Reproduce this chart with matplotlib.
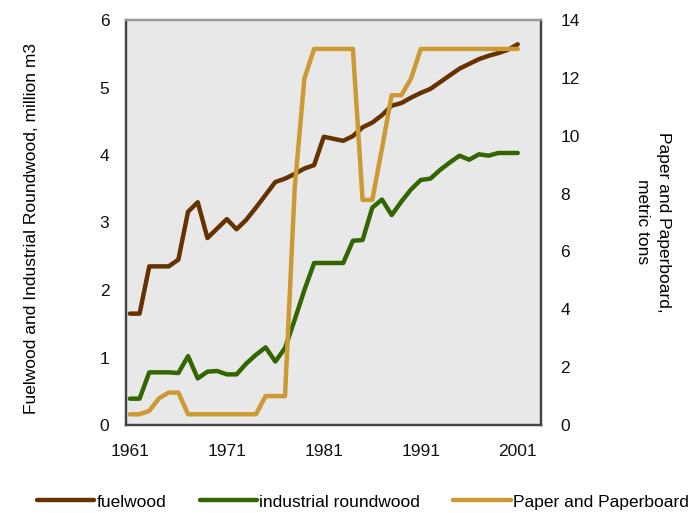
import matplotlib
matplotlib.use("Agg")
from matplotlib import pyplot as plt

years = list(range(1961, 2002))

fuelwood = [1.65, 1.65, 2.35, 2.35, 2.35, 2.45, 3.16, 3.30, 2.77, 2.91,
            3.05, 2.90, 3.04, 3.22, 3.41, 3.60, 3.65, 3.72, 3.80, 3.85,
            4.27, 4.24, 4.21, 4.28, 4.41, 4.48, 4.59, 4.73, 4.77, 4.85,
            4.92, 4.98, 5.08, 5.18, 5.28, 5.35, 5.42, 5.47, 5.51, 5.56,
            5.64]

industrial = [0.39, 0.39, 0.78, 0.78, 0.78, 0.77, 1.02, 0.69, 0.79, 0.80,
              0.75, 0.75, 0.91, 1.04, 1.15, 0.94, 1.14, 1.56, 2.00, 2.40,
              2.40, 2.40, 2.40, 2.73, 2.74, 3.22, 3.34, 3.11, 3.31, 3.49,
              3.63, 3.65, 3.78, 3.89, 3.99, 3.93, 4.01, 3.99, 4.03, 4.03,
              4.03]

paper = [0.37, 0.37, 0.49, 0.92, 1.12, 1.12, 0.37, 0.37, 0.37, 0.37,
         0.37, 0.37, 0.37, 0.37, 1.00, 1.00, 1.00, 8.20, 11.98, 13.0,
         13.0, 13.0, 13.0, 13.0, 7.78, 7.78, 9.56, 11.4, 11.4, 11.98,
         13.0, 13.0, 13.0, 13.0, 13.0, 13.0, 13.0, 13.0, 13.0, 13.0,
         13.0]

x_ticks = [1961, 1971, 1981, 1991, 2001]

c_fuel = "#663300"
c_ind = "#336600"
c_paper = "#CC9933"

plt.rcParams['font.family'] = ['Liberation Sans', 'DejaVu Sans']
fs = 12.5

fig = plt.figure(figsize=(6.9, 5.13), dpi=100)
ax = fig.add_axes([126 / 690, 1 - 425 / 513, 415 / 690, 405 / 513])
ax.set_facecolor("#E8E8E8")
ax2 = ax.twinx()

l1, = ax.plot(years, fuelwood, color=c_fuel, lw=3.2, solid_capstyle='round')
l2, = ax.plot(years, industrial, color=c_ind, lw=3.2, solid_capstyle='round')
l3, = ax2.plot(years, paper, color=c_paper, lw=3.2, solid_capstyle='round')

ax.set_xlim(1960.6, 2003.4)
ax.set_ylim(0, 6)
ax2.set_ylim(0, 14)
ax.set_xticks(x_ticks)
ax.set_yticks(range(0, 7))
ax2.set_yticks(range(0, 15, 2))

for a in (ax, ax2):
    a.tick_params(length=0, labelsize=fs, colors="#111111")
    for s in a.spines.values():
        s.set_linewidth(1.6)
        s.set_color("#444444")
    a.spines['top'].set_color("#999999")
ax.tick_params(axis='x', pad=14)
ax.tick_params(axis='y', pad=12)
ax2.tick_params(axis='y', pad=14)

fig.text(32 / 690, 1 - 228 / 513, "Fuelwood and Industrial Roundwood, million m3",
         rotation=90, ha='center', va='center', fontsize=fs)
fig.text(653 / 690, 1 - 222 / 513, "Paper and Paperboard,\nmetric tons",
         rotation=-90, ha='center', va='center', fontsize=fs, linespacing=1.5)

fig.legend([l1, l2, l3], ["fuelwood", "industrial roundwood", "Paper and Paperboard"],
           loc='center', bbox_to_anchor=(363 / 690, 1 - 502 / 513), ncol=3, frameon=False,
           fontsize=fs, handlelength=3.3, handletextpad=0.15, columnspacing=1.9,
           borderaxespad=0, borderpad=0)

fig.savefig("out.png", dpi=100)
